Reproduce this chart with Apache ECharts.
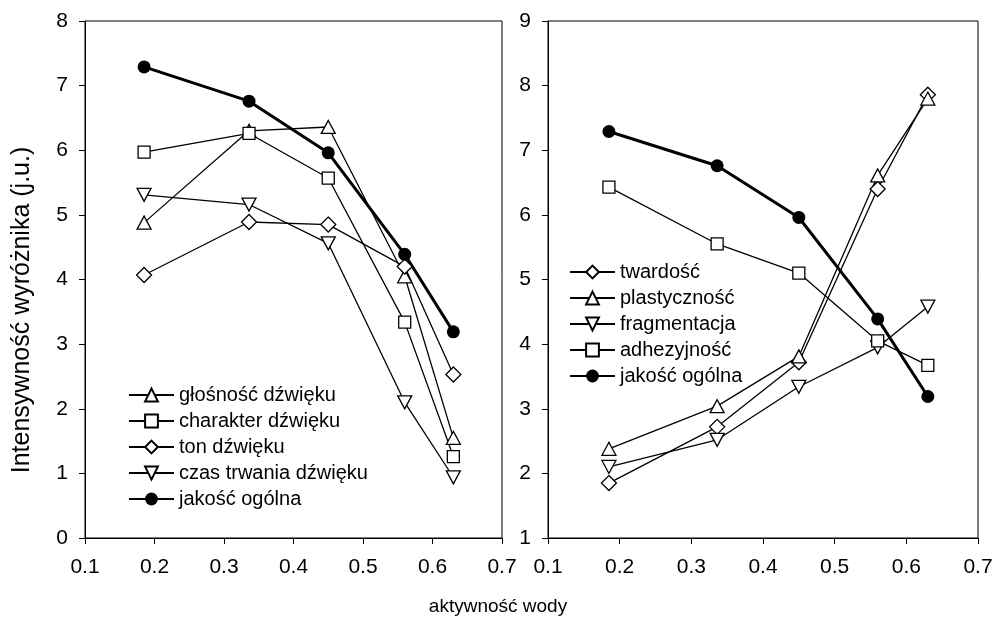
<!DOCTYPE html>
<html lang="pl">
<head>
<meta charset="UTF-8">
<title>aktywność wody</title>
<script src="https://cdn.jsdelivr.net/npm/echarts@6/dist/echarts.min.js"></script>
<style>
    html, body { margin: 0; padding: 0; background: #fff; }
    #main { width: 996px; height: 622px; }
</style>
</head>
<body>
<div id="main"></div>
<script>
// aktywność wody (x)
var aw = [0.185, 0.336, 0.45, 0.56, 0.63];

// lewy panel - dźwięk
var glosnosc  = [4.88, 6.30, 6.36, 4.05, 1.55];
var charakter = [5.97, 6.26, 5.57, 3.34, 1.26];
var ton       = [4.07, 4.89, 4.85, 4.20, 2.53];
var czas      = [5.31, 5.16, 4.56, 2.10, 0.94];
var jakosc    = [7.29, 6.76, 5.96, 4.39, 3.19];

// prawy panel - tekstura
var twardosc     = [1.85, 2.72, 3.72, 6.40, 7.86];
var plastycznosc = [2.38, 3.04, 3.81, 6.61, 7.80];
var fragmentacja = [2.10, 2.52, 3.34, 3.95, 4.58];
var adhezyjnosc  = [6.43, 5.55, 5.10, 4.05, 3.67];

var downTri = 'path://M0,0L2,0L1,1.732Z';
var textFont = "'Liberation Sans', Arial, sans-serif";

function pairs(ys) {
    return ys.map(function (y, i) { return [aw[i], y]; });
}

function mk(name, ys, symbol, size, idx, bold) {
    return {
        name: name,
        type: 'line',
        xAxisIndex: idx,
        yAxisIndex: idx,
        data: pairs(ys),
        symbol: symbol,
        symbolSize: size,
        showAllSymbol: true,
        animation: false,
        lineStyle: { color: '#000', width: bold ? 3 : 1.3 },
        itemStyle: {
            color: bold ? '#000' : '#fff',
            borderColor: '#000',
            borderWidth: bold ? 0 : 1.3
        },
        emphasis: { disabled: true }
    };
}

function xAx(idx) {
    return {
        type: 'value', gridIndex: idx,
        min: 0.1, max: 0.7, interval: 0.1,
        splitLine: { show: false },
        axisLine: { onZero: false, lineStyle: { color: '#000', width: 1 } },
        axisTick: { inside: false, length: 6, lineStyle: { color: '#000' } },
        axisLabel: {
            color: '#000', fontSize: 21, fontFamily: textFont, margin: 19,
            formatter: function (v) { return v.toFixed(1); }
        }
    };
}

function yAx(idx, min, max) {
    return {
        type: 'value', gridIndex: idx,
        min: min, max: max, interval: 1,
        splitLine: { show: false },
        axisLine: { onZero: false, lineStyle: { color: '#000', width: 1 } },
        axisTick: { inside: false, length: 6, lineStyle: { color: '#000' } },
        axisLabel: { color: '#000', fontSize: 21, fontFamily: textFont, margin: 17 }
    };
}

var chart = echarts.init(document.getElementById('main'), null, { renderer: 'canvas' });

var legendCommon = {
    orient: 'vertical',
    itemWidth: 45,
    itemHeight: 16,
    itemGap: 6,
    selectedMode: false,
    textStyle: { color: '#000', fontSize: 20, fontFamily: textFont }
};

var option = {
    backgroundColor: '#fff',
    animation: false,
    grid: [
        { left: 85, top: 21, width: 417, height: 517, show: true, borderColor: '#000', borderWidth: 1, backgroundColor: 'transparent' },
        { left: 548, top: 21, width: 430, height: 517, show: true, borderColor: '#000', borderWidth: 1, backgroundColor: 'transparent' }
    ],
    xAxis: [xAx(0), xAx(1)],
    yAxis: [yAx(0, 0, 8), yAx(1, 1, 9)],
    legend: [
        Object.assign({}, legendCommon, {
            left: 123, top: 380,
            data: ['głośność dźwięku', 'charakter dźwięku', 'ton dźwięku', 'czas trwania dźwięku', 'jakość ogólna']
        }),
        Object.assign({}, legendCommon, {
            left: 564, top: 257,
            data: ['twardość', 'plastyczność', 'fragmentacja', 'adhezyjność', 'jakość ogólna']
        })
    ],
    graphic: [{
        type: 'text',
        x: 22, y: 310,
        rotation: Math.PI / 2,
        style: {
            text: 'Intensywność wyróżnika (j.u.)', fill: '#000',
            fontSize: 25, fontFamily: textFont, align: 'center', verticalAlign: 'middle'
        }
    }, {
        type: 'text',
        x: 498, y: 607,
        style: {
            text: 'aktywność wody', fill: '#000',
            fontSize: 19, fontFamily: textFont, align: 'center', verticalAlign: 'middle'
        }
    }],
    series: [
        mk('głośność dźwięku', glosnosc, 'triangle', [14, 13], 0),
        mk('charakter dźwięku', charakter, 'rect', 12, 0),
        mk('ton dźwięku', ton, 'diamond', [15, 15], 0),
        mk('czas trwania dźwięku', czas, downTri, [14, 13], 0),
        mk('jakość ogólna', jakosc, 'circle', 13, 0, true),

        mk('twardość', twardosc, 'diamond', [15, 15], 1),
        mk('plastyczność', plastycznosc, 'triangle', [14, 13], 1),
        mk('fragmentacja', fragmentacja, downTri, [14, 13], 1),
        mk('adhezyjność', adhezyjnosc, 'rect', 12, 1),
        mk('jakość ogólna', jakosc, 'circle', 13, 1, true)
    ]
};

chart.setOption(option);
</script>
</body>
</html>
